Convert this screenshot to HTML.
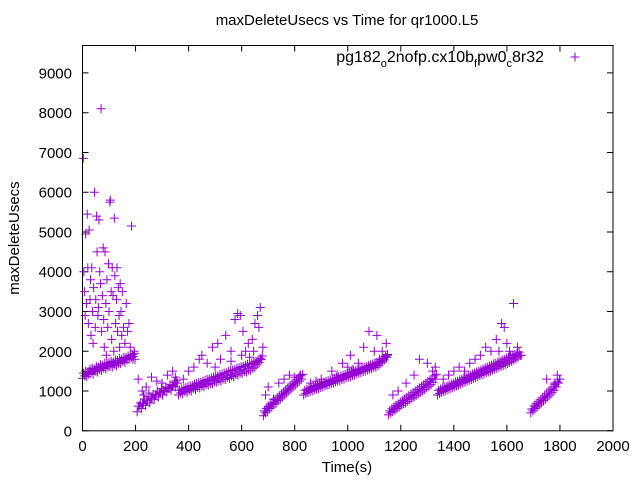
<!DOCTYPE html>
<html><head><meta charset="utf-8"><style>
html,body{margin:0;padding:0;background:#fff;}
svg{display:block;font-family:"Liberation Sans",sans-serif;}
</style></head><body>
<svg id="chart" width="640" height="480" viewBox="0 0 640 480">
<rect x="0" y="0" width="640" height="480" fill="#fff"/>
<text x="347" y="25" font-size="15" text-anchor="middle">maxDeleteUsecs vs Time for qr1000.L5</text>
<text x="347" y="472" font-size="15" text-anchor="middle">Time(s)</text>
<text transform="translate(19,238) rotate(-90)" font-size="15" text-anchor="middle">maxDeleteUsecs</text>
<g id="axes"></g>
<g id="marks"></g>
<g>
<text x="544" y="62" font-size="16" text-anchor="end">pg182<tspan font-size="11" dy="5">o</tspan><tspan dy="-5">2nofp.cx10b</tspan><tspan font-size="11" dy="5">f</tspan><tspan dy="-5">pw0</tspan><tspan font-size="11" dy="5">c</tspan><tspan dy="-5">8r32</tspan></text>
<path d="M570.5 57h9M575 52.5v9" stroke="#9400d3" stroke-width="1"/>
</g>
<rect x="82.5" y="45.5" width="530.5" height="385.3" fill="none" stroke="#000" stroke-width="1"/>
</svg>
<script>
const xTicks=[0,200,400,600,800,1000,1200,1400,1600,1800,2000];
const yTicks=[0,1000,2000,3000,4000,5000,6000,7000,8000,9000];
const times=[
0,8,16,24,32,40,48,56,64,72,80,88,96,104,112,120,128,136,144,152,160,168,176,184,192,198,
3,5,8,10,12,15,18,20,22,25,28,30,32,35,38,40,42,45,48,50,53,55,58,60,62,65,68,70,72,75,78,80,82,85,88,90,92,95,98,100,103,105,108,110,112,115,118,120,122,125,128,130,132,135,138,140,142,145,148,150,155,160,165,170,175,180,185,190,195,
206,214,222,230,238,246,254,262,270,278,286,294,302,310,318,326,334,342,350,358,
210,225,240,260,280,300,320,340,350,230,250,
362,370,378,386,394,402,410,418,426,434,442,450,458,466,474,482,490,498,506,514,522,530,538,546,554,562,570,578,586,594,602,610,618,626,634,642,650,658,666,674,
380,400,420,440,450,470,490,510,520,540,560,575,585,595,605,615,625,640,650,660,670,665,500,560,600,630,645,680,
682,690,698,706,714,722,730,738,746,754,762,770,778,786,794,802,810,818,826,
690,700,720,740,760,780,800,820,700,
834,842,850,858,866,874,882,890,898,906,914,922,930,938,946,954,962,970,978,986,994,1002,1010,1018,1026,1034,1042,1050,1058,1066,1074,1082,1090,1098,1106,1114,1122,1130,1138,1146,
860,880,900,940,960,980,1000,1010,1040,1060,1080,1100,1110,1130,1145,1150,1120,1020,
1154,1162,1170,1178,1186,1194,1202,1210,1218,1226,1234,1242,1250,1258,1266,1274,1282,1290,1298,1306,1314,1322,1330,
1170,1190,1220,1250,1270,1300,1320,1330,
1338,1346,1354,1362,1370,1378,1386,1394,1402,1410,1418,1426,1434,1442,1450,1458,1466,1474,1482,1490,1498,1506,1514,1522,1530,1538,1546,1554,1562,1570,1578,1586,1594,1602,1610,1618,1626,1634,1642,1650,
1360,1380,1400,1420,1440,1460,1480,1500,1520,1540,1560,1580,1590,1600,1610,1625,1640,1570,
1690,1698,1706,1714,1722,1730,1738,1746,1754,1762,1770,1778,1786,1794,
1750,1780,1790,1800,
4,12,20,28,36,44,52,60,68,76,84,92,100,108,116,124,132,140,148,156,164,172,180,188,196,
210,218,226,234,242,250,258,266,274,282,290,298,306,314,322,330,338,346,354,
366,374,382,390,398,406,414,422,430,438,446,454,462,470,478,486,494,502,510,518,526,534,542,550,558,566,574,582,590,598,606,614,622,630,638,646,654,662,670,678,
686,694,702,710,718,726,734,742,750,758,766,774,782,790,798,806,814,822,830,
838,846,854,862,870,878,886,894,902,910,918,926,934,942,950,958,966,974,982,990,998,1006,1014,1022,1030,1038,1046,1054,1062,1070,1078,1086,1094,1102,1110,1118,1126,1134,1142,1150,
1158,1166,1174,1182,1190,1198,1206,1214,1222,1230,1238,1246,1254,1262,1270,1278,1286,1294,1302,1310,1318,1326,1334,
1342,1350,1358,1366,1374,1382,1390,1398,1406,1414,1422,1430,1438,1446,1454,1462,1470,1478,1486,1494,1502,1510,1518,1526,1534,1542,1550,1558,1566,1574,1582,1590,1598,1606,1614,1622,1630,1638,1646,1654,
1694,1702,1710,1718,1726,1734,1742,1750,1758,1766,1774,1782,1790,1798
];
const usecs=[
1320,1380,1360,1420,1450,1430,1500,1480,1540,1520,1580,1560,1600,1620,1600,1660,1640,1700,1690,1740,1720,1780,1800,1840,1870,1800,
6850,4000,3500,2900,4950,3200,5450,4100,2700,5050,3300,3800,2400,4100,3000,2200,3600,6000,2600,3300,5400,4500,2900,3100,5300,4000,3700,8100,2500,3400,4600,2800,2100,4500,3200,1900,3800,2600,4200,3000,5750,5800,3500,2300,4100,3400,2000,5350,3900,2700,3300,4100,2500,3600,2900,2100,3700,3000,2400,3500,2600,2200,3200,2500,2700,2100,5150,1800,2000,
480,620,560,700,640,760,700,820,780,900,850,950,900,1000,980,1060,1020,1120,1100,1200,
1300,1000,1100,1350,1250,1200,1400,1500,1350,900,950,
900,950,930,990,970,1010,1000,1060,1040,1090,1080,1120,1110,1160,1150,1190,1180,1230,1220,1260,1250,1300,1290,1340,1320,1380,1360,1410,1400,1450,1440,1490,1480,1530,1520,1570,1600,1660,1720,1790,
1300,1500,1600,1800,1900,1700,2100,2200,1800,2400,2000,2800,2950,2900,2500,2000,2200,2300,2700,2900,3100,2600,1600,1750,1900,1850,2000,2100,
380,450,500,560,600,660,700,760,800,850,900,950,1000,1050,1100,1150,1200,1250,1300,
900,1100,800,1200,1300,1400,1350,1400,600,
900,940,960,990,1000,1030,1050,1060,1090,1100,1130,1150,1160,1190,1200,1230,1250,1260,1290,1300,1330,1350,1360,1390,1400,1430,1450,1460,1490,1500,1530,1550,1560,1590,1600,1640,1680,1720,1780,1840,
1200,1250,1300,1500,1400,1700,1600,1900,1700,2100,2500,2000,2400,2000,2200,1900,1800,1550,
400,450,480,520,560,600,640,680,700,740,780,820,850,890,930,970,1000,1040,1080,1120,1160,1220,1300,
900,1000,1200,1400,1800,1700,1500,1600,
900,940,970,990,1010,1040,1060,1080,1110,1130,1150,1180,1200,1220,1250,1270,1290,1320,1340,1360,1390,1410,1430,1460,1480,1500,1530,1550,1570,1600,1620,1640,1670,1690,1720,1750,1780,1810,1850,1890,
1300,1400,1500,1600,1500,1700,1800,1900,2100,2000,2300,2700,2600,2200,2000,3200,2100,2000,
450,500,560,600,650,700,760,800,850,900,960,1020,1100,1200,
1300,1200,1400,1300,
1450,1500,1480,1550,1580,1560,1620,1600,1660,1650,1700,1680,1720,1750,1730,1780,1770,1820,1800,1850,1840,1880,1900,1920,1950,
620,700,680,800,760,860,820,920,900,1000,960,1060,1020,1100,1080,1160,1140,1220,1260,
1020,1050,1060,1090,1110,1130,1140,1170,1190,1210,1220,1250,1270,1290,1300,1330,1350,1370,1380,1410,1430,1450,1460,1490,1510,1530,1540,1570,1590,1610,1620,1650,1670,1690,1700,1730,1750,1780,1820,1880,
500,560,620,680,720,780,830,880,930,980,1030,1080,1130,1180,1230,1280,1330,1380,1420,
1020,1050,1070,1100,1120,1140,1160,1180,1200,1220,1240,1260,1280,1300,1320,1340,1360,1380,1400,1420,1440,1460,1480,1500,1520,1540,1560,1580,1600,1620,1640,1660,1680,1700,1720,1750,1780,1820,1870,1920,
500,550,600,640,680,720,760,800,840,880,920,960,1000,1040,1080,1120,1160,1200,1240,1280,1320,1380,1420,
1020,1050,1080,1100,1130,1150,1180,1200,1230,1250,1280,1300,1330,1350,1380,1400,1430,1450,1480,1500,1530,1550,1580,1600,1630,1650,1680,1700,1730,1750,1780,1800,1830,1850,1880,1900,1920,1950,1980,1900,
550,620,680,730,780,830,880,940,1000,1050,1100,1160,1230,1300
];
const X0=82.5,X1=613,Y0=430.8,Y1=45.5,XMAX=2000,YMAX=9690;
function sx(v){return X0+(X1-X0)*v/XMAX;}
function sy(v){return Y0-(Y0-Y1)*v/YMAX;}
const NS='http://www.w3.org/2000/svg';
const axes=document.getElementById('axes');
const marks=document.getElementById('marks');
xTicks.forEach(function(t){
  const x=sx(t);
  const p=document.createElementNS(NS,'path');
  p.setAttribute('d','M'+x+' '+Y0+'v-6M'+x+' '+Y1+'v6');
  p.setAttribute('stroke','#000');
  
  
  axes.appendChild(p);
  const tx=document.createElementNS(NS,'text');
  tx.setAttribute('x',x);tx.setAttribute('y',451);
  tx.setAttribute('font-size','15');tx.setAttribute('text-anchor','middle');
  tx.textContent=t;
  
  
  axes.appendChild(tx);
});
yTicks.forEach(function(t){
  const y=sy(t);
  const p=document.createElementNS(NS,'path');
  p.setAttribute('d','M'+X0+' '+y+'h6M'+X1+' '+y+'h-6');
  p.setAttribute('stroke','#000');
  
  
  axes.appendChild(p);
  const tx=document.createElementNS(NS,'text');
  tx.setAttribute('x',72);tx.setAttribute('y',y+5.5);
  tx.setAttribute('font-size','15');tx.setAttribute('text-anchor','end');
  tx.textContent=t;
  
  
  axes.appendChild(tx);
});
let d='';
for(let i=0;i<times.length&&i<usecs.length;i++){
  const x=sx(times[i]),y=sy(usecs[i]);
  d+='M'+(x-4.5)+' '+y+'h9M'+x+' '+(y-4.5)+'v9';
}
const pts=document.createElementNS(NS,'path');
pts.setAttribute('d',d);
pts.setAttribute('stroke','#9400d3');
pts.setAttribute('stroke-width','1');
pts.setAttribute('fill','none');


marks.appendChild(pts);
</script>
</body></html>
